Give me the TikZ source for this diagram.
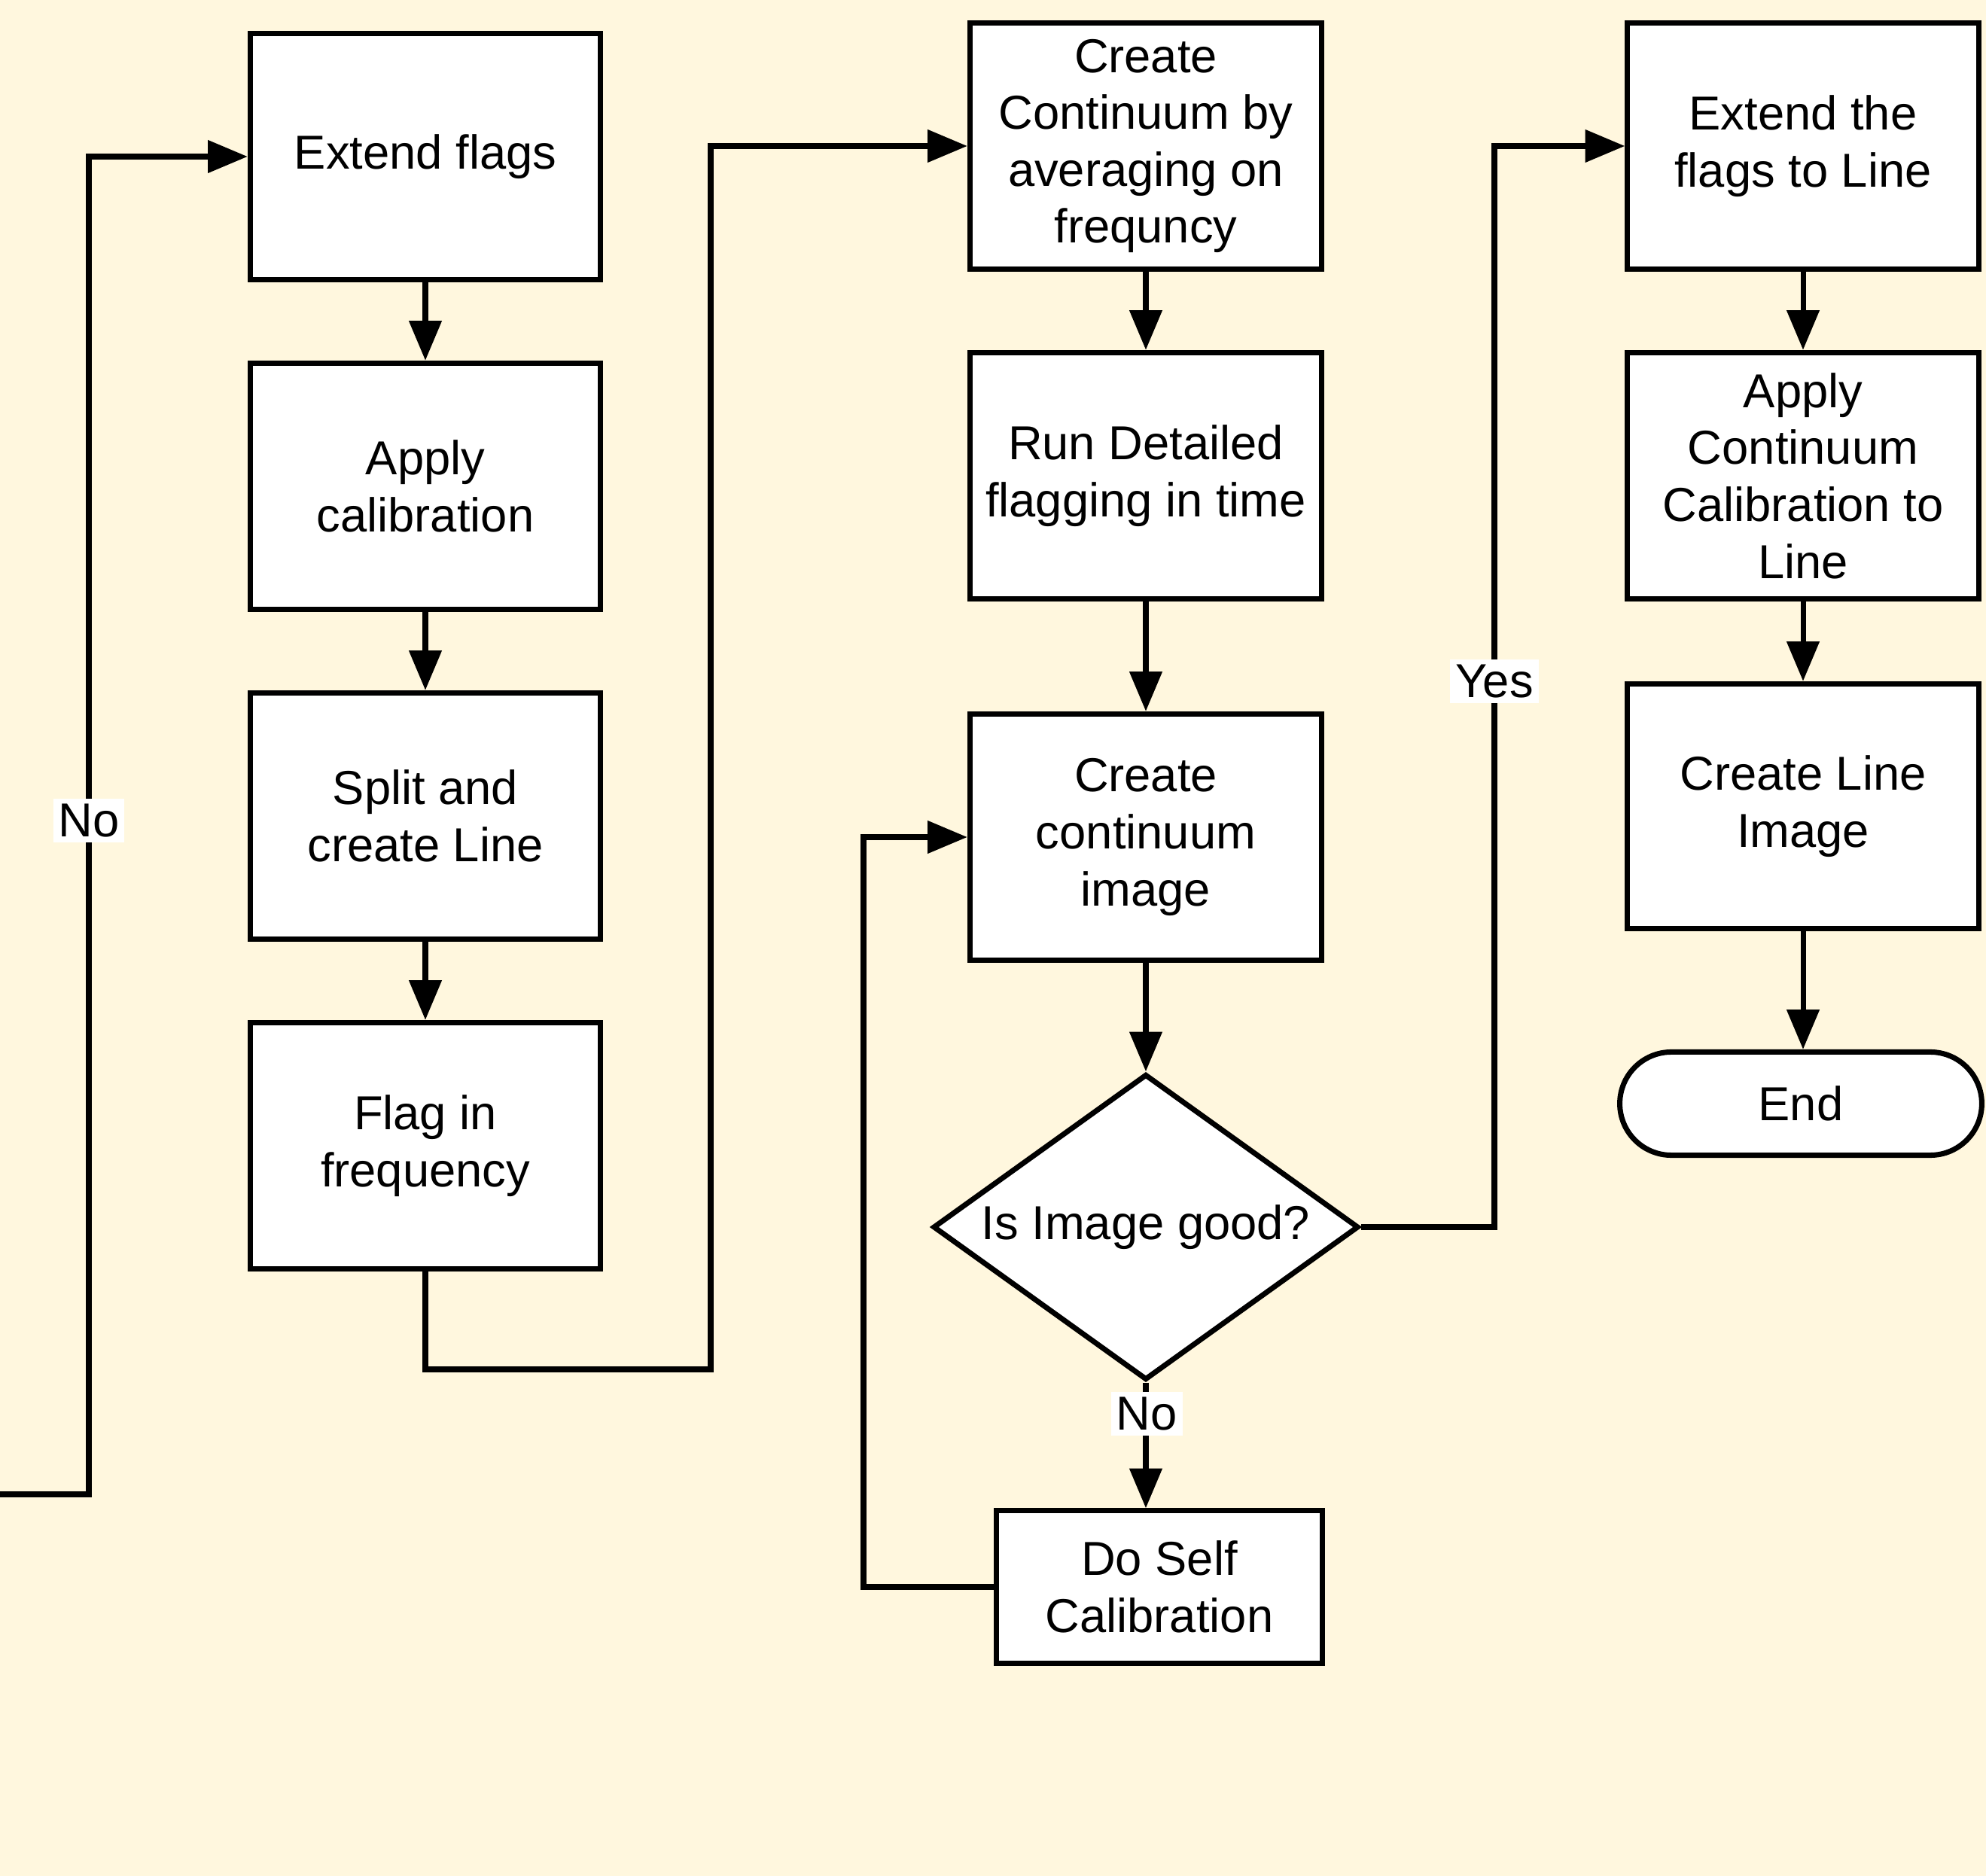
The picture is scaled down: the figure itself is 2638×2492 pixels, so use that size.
\documentclass[tikz,border=0pt]{standalone}
\usepackage{fontspec}
\setmainfont{Liberation Sans}
\usetikzlibrary{arrows.meta,shapes.geometric,shapes.misc}
\definecolor{bgcream}{RGB}{255,247,222}
\tikzset{
  box/.style={draw=black, line width=2pt, fill=white, rectangle, minimum width=4.65cm, minimum height=3.27cm, align=center, font=\fontsize{18}{21.5}\selectfont},
  dec/.style={draw=black, line width=2pt, fill=white, diamond, aspect=1.39, minimum width=5.65cm, minimum height=4.06cm, inner sep=0pt, align=center, font=\fontsize{18}{21.5}\selectfont},
  term/.style={draw=black, line width=2pt, fill=white, rounded rectangle, minimum width=5.04cm, minimum height=1.37cm, font=\fontsize{18}{21.5}\selectfont},
  arr/.style={line width=2pt, -{Triangle[width=12pt,length=15pt]}},
  lbl/.style={fill=white, inner sep=2pt, font=\fontsize{18}{21.5}\selectfont}
}
\begin{document}
\begin{tikzpicture}[x=0.01cm, y=-0.01cm]
\useasboundingbox (0,0) rectangle (2638,2492);
\fill[bgcream] (0,0) rectangle (2638,2492);
% column 1
\node[box] (ext1) at (565,208) {Extend flags};
\node[box] (cal) at (565,646) {Apply\\calibration};
\node[box] (split) at (565,1084) {Split and\\create Line};
\node[box] (flag) at (565,1522) {Flag in\\frequency};
% column 2
\node[box, minimum width=4.67cm] (cc) at (1522,194) {Create\\Continuum by\\averaging on\\frequncy};
\node[box, minimum width=4.67cm] (run) at (1522,632) {Run Detailed\\flagging in time};
\node[box, minimum width=4.67cm] (img) at (1522,1112) {Create\\continuum\\image};
\node[dec] (good) at (1522,1630) {Is Image good?};
\node[box, minimum width=4.32cm, minimum height=2.02cm] (self) at (1540,2108) {Do Self\\Calibration};
% column 3
\node[box, minimum width=4.66cm] (ext2) at (2395,194) {Extend the\\flags to Line};
\node[box, minimum width=4.66cm] (acl) at (2395,632) {Apply\\Continuum\\Calibration to\\Line};
\node[box, minimum width=4.66cm, minimum height=3.25cm] (limg) at (2395,1071) {Create Line\\Image};
\node[term] (end) at (2392,1466) {End};
% coordinates
\coordinate (nostart) at (0,1985);
\coordinate (nocorner) at (118,1985);
\coordinate (fc) at (944,1819);
\coordinate (sc) at (1147,2108);
\coordinate (yc) at (1985,1630);
% connectors
\draw[arr] (ext1) -- (cal);
\draw[arr] (cal) -- (split);
\draw[arr] (split) -- (flag);
\draw[arr] (flag.south) |- (fc) |- (cc.west);
\draw[arr] (cc) -- (run);
\draw[arr] (run) -- (img);
\draw[arr] (img.south) -- (good.north);
\draw[arr] (good.south) -- (good.south |- self.north);
\draw[arr] (self.west) -- (sc) |- (img.west);
\draw[arr] (good.east) -- (yc) |- (ext2.west);
\draw[arr] (ext2) -- (acl);
\draw[arr] (acl) -- (limg);
\draw[arr] (limg.south) -- (limg.south |- end.north);
\draw[arr] (nostart) -- (nocorner) |- (ext1.west);
% labels
\node[lbl] at (118,1090) {No};
\node[lbl] at (1523,1878) {No};
\node[lbl] at (1985,905) {Yes};
\end{tikzpicture}
\end{document}
